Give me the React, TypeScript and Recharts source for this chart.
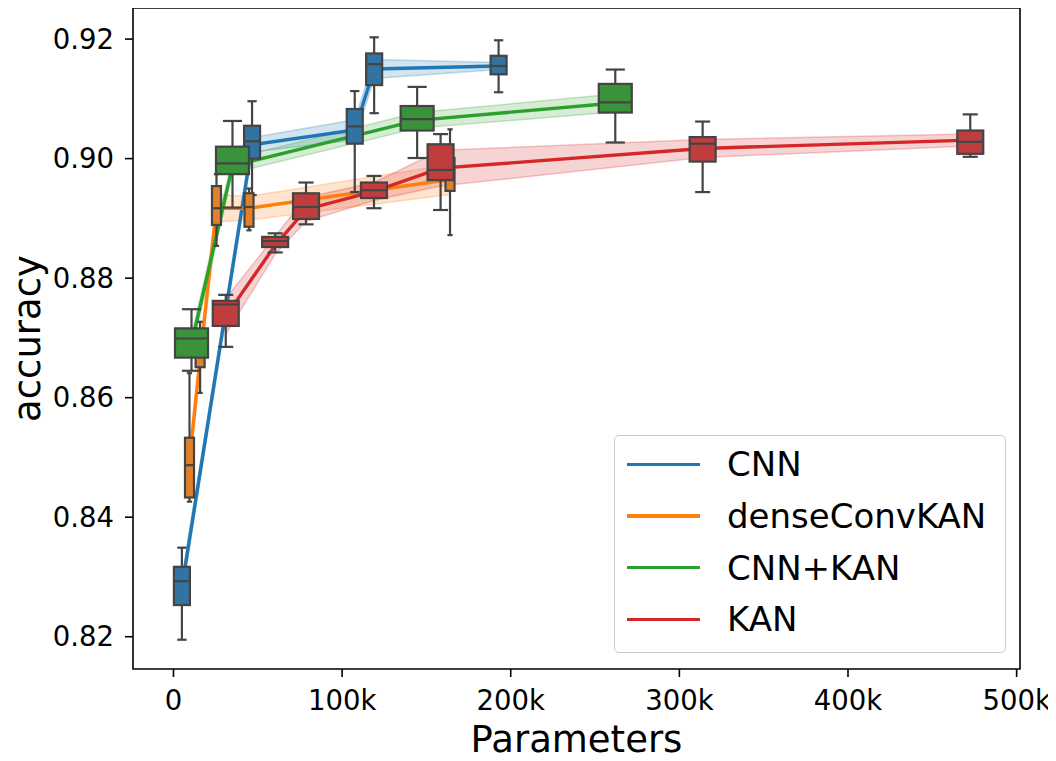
import React from 'react';
import { ComposedChart, Line, Area, XAxis, YAxis, ReferenceArea } from 'recharts';

// parameter counts (x positions) per model
const cnnParams = [5000, 46600, 107500, 119000, 192800];
const denseParams = [9500, 15800, 25500, 44800, 164000];
const cnnKanParams = [10700, 35000, 144500, 262000];
const kanParams = [31000, 60300, 78600, 118900, 158400, 313800, 472500];

// mean accuracy (line) and half width of the shaded band
const cnnMean = [0.8283, 0.9023, 0.9048, 0.915, 0.9155];
const cnnCi = [0.0015, 0.0012, 0.0017, 0.0016, 0.0006];
const denseMean = [0.8495, 0.8665, 0.8917, 0.8917, 0.8965];
const denseCi = [0.002, 0.002, 0.0023, 0.002, 0.0025];
const cnnKanMean = [0.869, 0.8988, 0.9064, 0.9093];
const cnnKanCi = [0.0015, 0.0012, 0.0013, 0.0015];
const kanMean = [0.8736, 0.8855, 0.8915, 0.8945, 0.8984, 0.9017, 0.9031];
const kanCi = [0.003, 0.0015, 0.002, 0.0015, 0.003, 0.0015, 0.001];

// box stats: [min, q1, median, q3, max]
const cnnBox = [
  [0.8195, 0.8253, 0.8293, 0.8317, 0.8349],
  [0.8939, 0.9, 0.9029, 0.9055, 0.9096],
  [0.8944, 0.9025, 0.9054, 0.9083, 0.9113],
  [0.9076, 0.9123, 0.9158, 0.9176, 0.9203],
  [0.9111, 0.9141, 0.9155, 0.9172, 0.9198],
];
const denseBox = [
  [0.8426, 0.8433, 0.8487, 0.8533, 0.8641],
  [0.8608, 0.8651, 0.8682, 0.87, 0.8727],
  [0.8854, 0.8889, 0.8917, 0.8954, 0.8974],
  [0.888, 0.8886, 0.8919, 0.8942, 0.895],
  [0.8872, 0.8946, 0.8969, 0.9001, 0.9049],
];
const cnnKanBox = [
  [0.8645, 0.8667, 0.8699, 0.8716, 0.8748],
  [0.8918, 0.8974, 0.8992, 0.902, 0.9063],
  [0.9001, 0.9047, 0.9066, 0.9088, 0.912],
  [0.9027, 0.9077, 0.9094, 0.9125, 0.9149],
];
const kanBox = [
  [0.8685, 0.872, 0.8756, 0.8762, 0.8772],
  [0.8843, 0.8852, 0.8862, 0.8869, 0.8875],
  [0.889, 0.8899, 0.8919, 0.8942, 0.896],
  [0.8917, 0.8934, 0.8947, 0.896, 0.8971],
  [0.8914, 0.8964, 0.8981, 0.9024, 0.9041],
  [0.8944, 0.8995, 0.9025, 0.9036, 0.9062],
  [0.9003, 0.9008, 0.9028, 0.9047, 0.9074],
];

const xTicks = [0, 100000, 200000, 300000, 400000, 500000];
const xTickLabels = ['0', '100k', '200k', '300k', '400k', '500k'];
const yTicks = [0.82, 0.84, 0.86, 0.88, 0.9, 0.92];

const series = [
  { name: 'CNN', params: cnnParams, mean: cnnMean, ci: cnnCi, box: cnnBox, color: '#1f77b4', fill: '#3274a1', boxW: 16 },
  { name: 'denseConvKAN', params: denseParams, mean: denseMean, ci: denseCi, box: denseBox, color: '#ff7f0e', fill: '#e1812c', boxW: 9 },
  { name: 'CNN+KAN', params: cnnKanParams, mean: cnnKanMean, ci: cnnKanCi, box: cnnKanBox, color: '#2ca02c', fill: '#3a923a', boxW: 33 },
  { name: 'KAN', params: kanParams, mean: kanMean, ci: kanCi, box: kanBox, color: '#d62728', fill: '#c03d3e', boxW: 26 },
];

const EDGE = '#444444';
const FONT = '"DejaVu Sans", sans-serif';

const boxRows = (s: any) =>
  s.params.map((x: number, i: number) => {
    const [min, q1, med, q3, max] = s.box[i];
    return { x, min, q1, med, q3, max };
  });

const meanRows = (s: any) =>
  s.params.map((x: number, i: number) => ({
    x,
    mean: s.mean[i],
    band: [s.mean[i] - s.ci[i], s.mean[i] + s.ci[i]],
  }));

// draws a box + whiskers; y scale is taken from the other points of the same series
const makeBox = (w: number, fill: string) => (p: any) => {
  const { cx, cy, payload, points, index } = p;
  const key = `box-${index}`;
  if (cx == null || cy == null || !points) return <g key={key} />;
  const ref = points.find((q: any) => q.payload.med !== payload.med);
  if (!ref) return <g key={key} />;
  const k = (ref.y - cy) / (ref.payload.med - payload.med);
  const y = (v: number) => cy + k * (v - payload.med);
  const cap = w * 0.58;
  const sw = 2.2;
  return (
    <g key={key}>
      <line x1={cx} x2={cx} y1={y(payload.max)} y2={y(payload.q3)} stroke={EDGE} strokeWidth={sw} />
      <line x1={cx} x2={cx} y1={y(payload.q1)} y2={y(payload.min)} stroke={EDGE} strokeWidth={sw} />
      <line x1={cx - cap / 2} x2={cx + cap / 2} y1={y(payload.max)} y2={y(payload.max)} stroke={EDGE} strokeWidth={sw} />
      <line x1={cx - cap / 2} x2={cx + cap / 2} y1={y(payload.min)} y2={y(payload.min)} stroke={EDGE} strokeWidth={sw} />
      <rect
        x={cx - w / 2}
        y={y(payload.q3)}
        width={w}
        height={y(payload.q1) - y(payload.q3)}
        fill={fill}
        stroke={EDGE}
        strokeWidth={sw}
      />
      <line x1={cx - w / 2} x2={cx + w / 2} y1={y(payload.med)} y2={y(payload.med)} stroke={EDGE} strokeWidth={sw} />
    </g>
  );
};

const App: React.FC = () => {
  return (
    <div style={{ position: 'relative', width: 1056, height: 761, margin: -8, overflow: 'hidden', background: '#fff', fontFamily: FONT }}>
      <ComposedChart width={1056} height={761} margin={{ top: 8, right: 36, left: 0, bottom: 0 }}>
        <XAxis
          dataKey="x"
          type="number"
          domain={[-24000, 502000]}
          allowDataOverflow
          ticks={xTicks}
          tickFormatter={(v: number) => xTickLabels[xTicks.indexOf(v)]}
          height={92}
          axisLine={false}
          tickLine={{ stroke: '#000', strokeWidth: 1.6 }}
          tickSize={8}
          tickMargin={13}
          tick={{ fill: '#000', fontSize: 27.5, fontFamily: FONT }}
          label={{
            content: (lp: any) => {
              const vb = lp.viewBox;
              return (
                <text x={vb.x + vb.width / 2} y={vb.y + 83} textAnchor="middle" fontSize={37} fontFamily={FONT} fill="#000">
                  Parameters
                </text>
              );
            },
          }}
        />
        <YAxis
          type="number"
          domain={[0.8146, 0.9252]}
          allowDataOverflow
          ticks={yTicks}
          tickFormatter={(v: number) => v.toFixed(2)}
          width={133}
          axisLine={false}
          tickLine={{ stroke: '#000', strokeWidth: 1.6 }}
          tickSize={8}
          tickMargin={11}
          tick={{ fill: '#000', fontSize: 27.5, fontFamily: FONT }}
          label={{
            content: (lp: any) => {
              const vb = lp.viewBox;
              const lx = vb.x + 40;
              const ly = vb.y + vb.height / 2;
              return (
                <text x={lx} y={ly} transform={`rotate(-90, ${lx}, ${ly})`} textAnchor="middle" fontSize={37} fontFamily={FONT} fill="#000">
                  accuracy
                </text>
              );
            },
          }}
        />
        {series.map((s) => (
          <Line
            key={`box-${s.name}`}
            data={boxRows(s)}
            dataKey="med"
            stroke="none"
            dot={makeBox(s.boxW, s.fill)}
            activeDot={false}
            legendType="none"
            isAnimationActive={false}
          />
        ))}
        {series.map((s) => (
          <Area
            key={`band-${s.name}`}
            data={meanRows(s)}
            dataKey="band"
            type="linear"
            fill={s.color}
            fillOpacity={0.2}
            stroke={s.color}
            strokeOpacity={0.25}
            strokeWidth={1.5}
            dot={false}
            activeDot={false}
            legendType="none"
            isAnimationActive={false}
          />
        ))}
        {series.map((s) => (
          <Line
            key={`mean-${s.name}`}
            data={meanRows(s)}
            dataKey="mean"
            type="linear"
            stroke={s.color}
            strokeWidth={3.4}
            dot={false}
            activeDot={false}
            name={s.name}
            isAnimationActive={false}
          />
        ))}
        <ReferenceArea
          x1={-24000}
          x2={502000}
          y1={0.8146}
          y2={0.9252}
          fill="none"
          stroke="#000"
          strokeWidth={1.6}
          ifOverflow="visible"
        />
      </ComposedChart>
      <div
        style={{
          position: 'absolute',
          left: 614,
          top: 435,
          width: 392,
          height: 218,
          boxSizing: 'border-box',
          border: '1.5px solid #cccccc',
          borderRadius: 5,
          background: 'rgba(255,255,255,0.8)',
        }}
      >
        {series.map((s, i) => (
          <div
            key={s.name}
            style={{
              position: 'absolute',
              left: 0,
              top: 2.5 + i * 51.7,
              height: 51.7,
              display: 'flex',
              alignItems: 'center',
            }}
          >
            <div style={{ marginLeft: 12, width: 73, height: 3.4, background: s.color }} />
            <span style={{ marginLeft: 27, fontSize: 34, color: '#000', lineHeight: 1 }}>{s.name}</span>
          </div>
        ))}
      </div>
    </div>
  );
};

export default App;
